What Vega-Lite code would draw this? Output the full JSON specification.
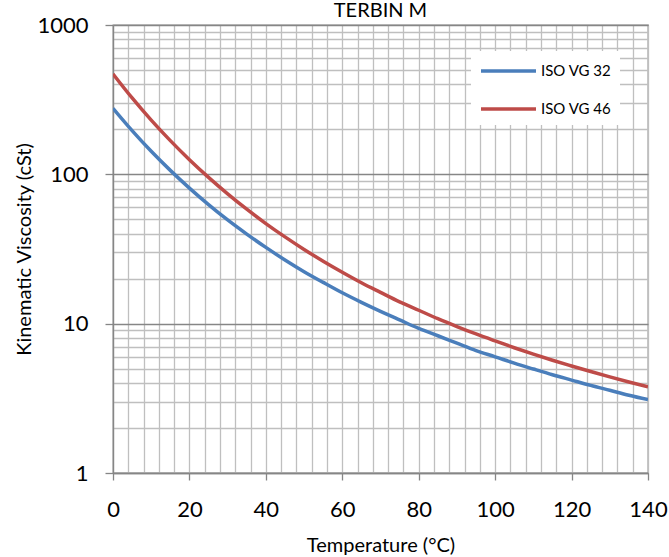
{
  "$schema": "https://vega.github.io/schema/vega-lite/v6.json",
  "width": 535,
  "height": 448,
  "autosize": {"type": "none"},
  "padding": {"left": 113, "top": 25, "right": 21, "bottom": 84},
  "background": "white",
  "title": {"text": "TERBIN M", "font": "Lato", "fontSize": 20, "fontWeight": "normal", "color": "#000000", "anchor": "middle", "offset": -7},
  "config": {
    "view": {"stroke": "#868686", "strokeWidth": 1.3},
    "font": "Lato"
  },
  "data": {
    "values": [
      {"t": 0, "v": 277.0, "s": "ISO VG 32"},
      {"t": 5, "v": 196.3, "s": "ISO VG 32"},
      {"t": 10, "v": 142.7, "s": "ISO VG 32"},
      {"t": 15, "v": 106.3, "s": "ISO VG 32"},
      {"t": 20, "v": 80.9, "s": "ISO VG 32"},
      {"t": 25, "v": 62.7, "s": "ISO VG 32"},
      {"t": 30, "v": 49.5, "s": "ISO VG 32"},
      {"t": 35, "v": 39.8, "s": "ISO VG 32"},
      {"t": 40, "v": 32.4, "s": "ISO VG 32"},
      {"t": 45, "v": 26.7, "s": "ISO VG 32"},
      {"t": 50, "v": 22.3, "s": "ISO VG 32"},
      {"t": 55, "v": 18.9, "s": "ISO VG 32"},
      {"t": 60, "v": 16.1, "s": "ISO VG 32"},
      {"t": 65, "v": 13.9, "s": "ISO VG 32"},
      {"t": 70, "v": 12.1, "s": "ISO VG 32"},
      {"t": 75, "v": 10.6, "s": "ISO VG 32"},
      {"t": 80, "v": 9.3, "s": "ISO VG 32"},
      {"t": 85, "v": 8.3, "s": "ISO VG 32"},
      {"t": 90, "v": 7.4, "s": "ISO VG 32"},
      {"t": 95, "v": 6.6, "s": "ISO VG 32"},
      {"t": 100, "v": 6.0, "s": "ISO VG 32"},
      {"t": 105, "v": 5.44, "s": "ISO VG 32"},
      {"t": 110, "v": 4.97, "s": "ISO VG 32"},
      {"t": 115, "v": 4.55, "s": "ISO VG 32"},
      {"t": 120, "v": 4.19, "s": "ISO VG 32"},
      {"t": 125, "v": 3.86, "s": "ISO VG 32"},
      {"t": 130, "v": 3.58, "s": "ISO VG 32"},
      {"t": 135, "v": 3.32, "s": "ISO VG 32"},
      {"t": 140, "v": 3.10, "s": "ISO VG 32"},
      {"t": 0, "v": 470.4, "s": "ISO VG 46"},
      {"t": 5, "v": 324.8, "s": "ISO VG 46"},
      {"t": 10, "v": 230.7, "s": "ISO VG 46"},
      {"t": 15, "v": 168.1, "s": "ISO VG 46"},
      {"t": 20, "v": 125.3, "s": "ISO VG 46"},
      {"t": 25, "v": 95.4, "s": "ISO VG 46"},
      {"t": 30, "v": 74.0, "s": "ISO VG 46"},
      {"t": 35, "v": 58.4, "s": "ISO VG 46"},
      {"t": 40, "v": 46.8, "s": "ISO VG 46"},
      {"t": 45, "v": 38.1, "s": "ISO VG 46"},
      {"t": 50, "v": 31.4, "s": "ISO VG 46"},
      {"t": 55, "v": 26.2, "s": "ISO VG 46"},
      {"t": 60, "v": 22.1, "s": "ISO VG 46"},
      {"t": 65, "v": 18.8, "s": "ISO VG 46"},
      {"t": 70, "v": 16.2, "s": "ISO VG 46"},
      {"t": 75, "v": 14.0, "s": "ISO VG 46"},
      {"t": 80, "v": 12.3, "s": "ISO VG 46"},
      {"t": 85, "v": 10.8, "s": "ISO VG 46"},
      {"t": 90, "v": 9.57, "s": "ISO VG 46"},
      {"t": 95, "v": 8.53, "s": "ISO VG 46"},
      {"t": 100, "v": 7.66, "s": "ISO VG 46"},
      {"t": 105, "v": 6.90, "s": "ISO VG 46"},
      {"t": 110, "v": 6.25, "s": "ISO VG 46"},
      {"t": 115, "v": 5.69, "s": "ISO VG 46"},
      {"t": 120, "v": 5.21, "s": "ISO VG 46"},
      {"t": 125, "v": 4.78, "s": "ISO VG 46"},
      {"t": 130, "v": 4.40, "s": "ISO VG 46"},
      {"t": 135, "v": 4.07, "s": "ISO VG 46"},
      {"t": 140, "v": 3.78, "s": "ISO VG 46"}
    ]
  },
  "mark": {"type": "line", "strokeWidth": 3.5, "interpolate": "monotone", "clip": true},
  "encoding": {
    "x": {
      "field": "t",
      "type": "quantitative",
      "scale": {"domain": [0, 140], "nice": false, "zero": false},
      "axis": {
        "values": [0, 4, 8, 12, 16, 20, 24, 28, 32, 36, 40, 44, 48, 52, 56, 60, 64, 68, 72, 76, 80, 84, 88, 92, 96, 100, 104, 108, 112, 116, 120, 124, 128, 132, 136, 140],
        "labelExpr": "datum.value % 20 === 0 ? datum.label : ''",
        "labelOverlap": false,
        "labelFontSize": 22,
        "labelColor": "#000000",
        "labelPadding": 19,
        "labelFlush": false,
        "tickSize": 7,
        "tickWidth": 1.3,
        "tickColor": "#868686",
        "tickOpacity": {"condition": {"test": "datum.value % 20 === 0", "value": 1}, "value": 0},
        "grid": true,
        "gridColor": "#bfbfbf",
        "gridWidth": 1.3,
        "domainColor": "#868686",
        "domainWidth": 1.3,
        "title": "Temperature (°C)",
        "titleFontSize": 20,
        "titleFontWeight": "normal",
        "titleColor": "#000000",
        "titlePadding": 15
      }
    },
    "y": {
      "field": "v",
      "type": "quantitative",
      "scale": {"type": "log", "domain": [1, 1000], "nice": false},
      "axis": {
        "values": [1, 2, 3, 4, 5, 6, 7, 8, 9, 10, 20, 30, 40, 50, 60, 70, 80, 90, 100, 200, 300, 400, 500, 600, 700, 800, 900, 1000],
        "labelExpr": "(datum.value === 1 || datum.value === 10 || datum.value === 100 || datum.value === 1000) ? format(datum.value, 'd') : ''",
        "labelOverlap": false,
        "labelFontSize": 22,
        "labelColor": "#000000",
        "labelPadding": 17,
        "labelFlush": false,
        "tickSize": 8,
        "tickWidth": 1.3,
        "tickColor": "#868686",
        "tickOpacity": {"condition": {"test": "datum.value === 1 || datum.value === 10 || datum.value === 100 || datum.value === 1000", "value": 1}, "value": 0},
        "grid": true,
        "gridColor": {"condition": {"test": "datum.value === 1 || datum.value === 10 || datum.value === 100 || datum.value === 1000", "value": "#868686"}, "value": "#bfbfbf"},
        "gridWidth": 1.3,
        "domainColor": "#868686",
        "domainWidth": 1.3,
        "title": "Kinematic Viscosity  (cSt)",
        "titleFontSize": 20,
        "titleFontWeight": "normal",
        "titleColor": "#000000",
        "titlePadding": 2
      }
    },
    "color": {
      "field": "s",
      "type": "nominal",
      "scale": {"domain": ["ISO VG 32", "ISO VG 46"], "range": ["#4a7ebb", "#be4b48"]},
      "legend": {
        "title": null,
        "orient": "none",
        "legendX": 358,
        "legendY": 26,
        "fillColor": "#ffffff",
        "padding": 8,
        "symbolType": "M-1,0H4.5",
        "symbolSize": 400,
        "symbolStrokeWidth": 3.5,
        "labelFontSize": 15,
        "labelColor": "#000000",
        "labelOffset": 38,
        "rowPadding": 18
      }
    }
  }
}
